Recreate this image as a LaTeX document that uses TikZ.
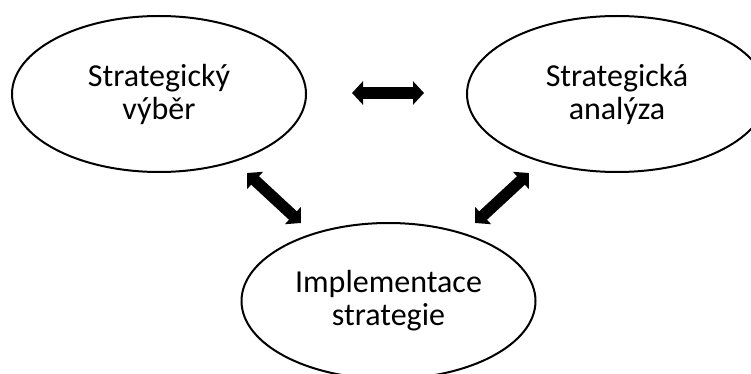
\documentclass[tikz,border=0pt]{standalone}
\usepackage{fontspec}
\setmainfont{Carlito}
\usetikzlibrary{shapes.geometric,arrows.meta}
\tikzset{
  oval/.style={ellipse, draw=black, line width=2pt, inner sep=0pt,
    minimum width=294pt, minimum height=156pt, align=center,
    font=\fontsize{32}{33}\selectfont},
  dblarrow/.style={line width=11.5pt, draw=black,
    {Triangle[length=11pt,width=23pt]}-{Triangle[length=11pt,width=23pt]}}
}
\begin{document}
\begin{tikzpicture}[x=1pt,y=-1pt]
\useasboundingbox (0,0) rectangle (751,374);
\clip (0,0) rectangle (751,374);
\node[oval] (vyber) at (159,94) {Strategický\\výběr};
\node[oval, minimum width=300pt] (analyza) at (617,94) {Strategická\\analýza};
\node[oval] (impl) at (388.5,301) {Implementace\\strategie};
\coordinate (h1) at (352,93);
\coordinate (h2) at (424,93);
\coordinate (l1) at (247,173);
\coordinate (l2) at (301,223);
\coordinate (r1) at (529,173);
\coordinate (r2) at (475,223);
\draw[dblarrow] (h1) -- (h2);
\draw[dblarrow] (l1) -- (l2);
\draw[dblarrow] (r1) -- (r2);
\end{tikzpicture}
\end{document}
